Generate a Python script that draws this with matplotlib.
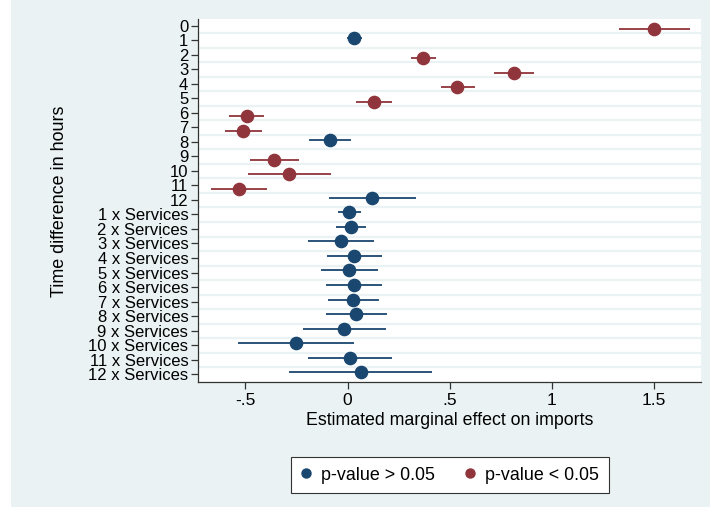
import matplotlib
matplotlib.use("Agg")
import matplotlib.pyplot as plt
from matplotlib.patches import Rectangle
from matplotlib.lines import Line2D
import numpy as np

plt.rcParams['font.family'] = ['Liberation Sans', 'DejaVu Sans']

labels = ["0", "1", "2", "3", "4", "5", "6", "7", "8", "9", "10", "11", "12",
          "1 x Services", "2 x Services", "3 x Services", "4 x Services",
          "5 x Services", "6 x Services", "7 x Services", "8 x Services",
          "9 x Services", "10 x Services", "11 x Services", "12 x Services"]
estimate = [1.502, 0.033, 0.371, 0.816, 0.537, 0.129, -0.493, -0.511, -0.088,
            -0.359, -0.285, -0.530, 0.121,
            0.007, 0.018, -0.030, 0.033, 0.007, 0.031, 0.028, 0.044,
            -0.016, -0.252, 0.012, 0.068]
ci_low = [1.330, -0.003, 0.313, 0.720, 0.457, 0.040, -0.579, -0.598, -0.189,
          -0.478, -0.486, -0.670, -0.089,
          -0.049, -0.058, -0.193, -0.100, -0.128, -0.105, -0.096, -0.105,
          -0.219, -0.535, -0.194, -0.285]
ci_high = [1.678, 0.071, 0.432, 0.913, 0.623, 0.220, -0.408, -0.420, 0.016,
           -0.236, -0.082, -0.392, 0.336,
           0.065, 0.093, 0.131, 0.170, 0.147, 0.170, 0.152, 0.193,
           0.187, 0.033, 0.217, 0.416]
significant = [True, False, True, True, True, True, True, True, False,
               True, True, True, False,
               False, False, False, False, False, False, False, False,
               False, False, False, False]
xticks = [-0.5, 0, 0.5, 1, 1.5]
xticklabels = ["-.5", "0", ".5", "1", "1.5"]

BLUE = "#1a476f"
RED = "#90353b"
BG = "#eaf2f3"

fig = plt.figure(figsize=(7.1, 5.13), dpi=100, facecolor="white")
fig.patches.append(Rectangle((11 / 710, 6 / 513), 1 - 11 / 710, 1 - 6 / 513,
                             transform=fig.transFigure, facecolor=BG,
                             edgecolor="none", zorder=-10))

ax = fig.add_axes([198 / 710, 1 - 382 / 513, (701 - 198) / 710, (382 - 19) / 513])
ax.set_zorder(1)
ax.set_facecolor("white")

n = len(labels)
pos = np.arange(n)
for i in range(n):
    if significant[i]:
        c, off = RED, 0.23
    else:
        c, off = BLUE, -0.14
    y = pos[i] + off
    ax.plot([ci_low[i], ci_high[i]], [y, y], color=c, lw=1.3, solid_capstyle="butt", zorder=3)
    ax.plot([estimate[i]], [y], "o", color=c, ms=8.8, mec=c, zorder=4)

for k in range(n - 1):
    ax.axhline(k + 0.52, color=BG, lw=1.6, zorder=1)

ax.set_ylim(n - 1 + 0.54, -0.46)
ax.set_xlim(-0.7325, 1.732)
ax.set_yticks(pos)
ax.set_yticklabels(labels, fontsize=12)
ax.set_xticks(xticks)
ax.set_xticklabels(xticklabels, fontsize=12.5)
ax.tick_params(axis="both", direction="out", length=5, width=0.9, color="#333333", pad=2)
ax.tick_params(axis="x", pad=3)

for s in ["top", "right"]:
    ax.spines[s].set_visible(False)
for s in ["left", "bottom"]:
    ax.spines[s].set_color("#333333")
    ax.spines[s].set_linewidth(0.9)

ax.set_xlabel("Estimated marginal effect on imports", fontsize=12.8, labelpad=3)
fig.text(60 / 710, 1 - 201 / 513, "Time difference in hours", rotation=90,
         ha="center", va="center", fontsize=12.9)

handles = [Line2D([], [], marker="o", ls="none", color=BLUE, ms=6.5, label="p-value > 0.05"),
           Line2D([], [], marker="o", ls="none", color=RED, ms=6.5, label="p-value < 0.05")]
leg = fig.legend(handles=handles, loc="center", bbox_to_anchor=(450 / 710, 1 - 475 / 513),
                 ncol=2, fontsize=12.9, frameon=True, fancybox=False, edgecolor="#333333",
                 facecolor="white", framealpha=1,
                 handlelength=0.5, handletextpad=0.6, columnspacing=1.7,
                 borderpad=0.55, borderaxespad=0)
leg.get_frame().set_linewidth(0.8)

fig.savefig("out.png", dpi=100, facecolor="white")
